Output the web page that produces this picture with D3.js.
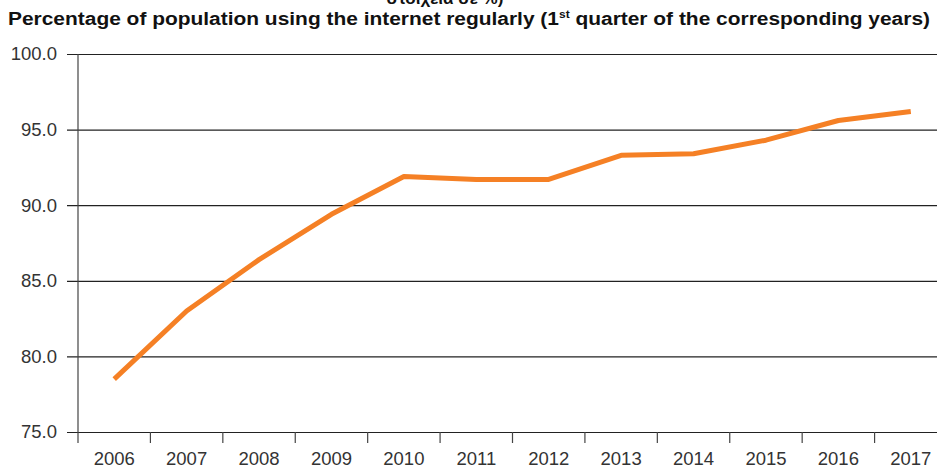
<!DOCTYPE html>
<html>
<head>
<meta charset="utf-8">
<script src="https://cdn.jsdelivr.net/npm/d3@7"></script>
<style>
  html, body { margin: 0; padding: 0; background: #fff; overflow: hidden; }
  svg { display: block; font-family: "Liberation Sans", Arial, sans-serif; }
</style>
</head>
<body>
<svg id="chart"></svg>
<script>
// data
const years = ["2006", "2007", "2008", "2009", "2010", "2011", "2012", "2013", "2014", "2015", "2016", "2017"];
const internetUse = [78.5, 83.0, 86.4, 89.4, 91.9, 91.7, 91.7, 93.3, 93.4, 94.3, 95.6, 96.2];
const yTicks = [75, 80, 85, 90, 95, 100];

const width = 937;
const height = 470;
const margin = { top: 54, right: -10, bottom: 38, left: 78 };

const svg = d3.select("#chart")
  .attr("width", width)
  .attr("height", height);

const x = d3.scaleBand()
  .domain(years)
  .range([margin.left, width - margin.right])
  .padding(0);

const y = d3.scaleLinear()
  .domain([75, 100])
  .range([height - margin.bottom, margin.top]);

// clipped heading left over from the page above (cut off in the reference too)
svg.append("text")
  .attr("x", 445)
  .attr("y", 4)
  .attr("text-anchor", "middle")
  .attr("font-size", 17)
  .attr("font-weight", "bold")
  .attr("fill", "#111")
  .text("στοιχεία σε %)");

// title
const title = svg.append("text")
  .attr("x", 8)
  .attr("y", 25)
  .attr("font-size", 17.5)
  .attr("font-weight", "bold")
  .attr("fill", "#111")
  .attr("textLength", 922)
  .attr("lengthAdjust", "spacingAndGlyphs");
title.append("tspan").text("Percentage of population using the internet regularly (1");
title.append("tspan").attr("font-size", 10).attr("dy", -7).text("st");
title.append("tspan").attr("dy", 7).text(" quarter of the corresponding years)");

// horizontal grid + y axis
const yAxis = svg.append("g")
  .attr("transform", `translate(${margin.left},0)`)
  .call(d3.axisLeft(y)
    .tickValues(yTicks)
    .tickFormat(d3.format(".1f"))
    .tickSize(-(width - margin.left - margin.right))
    .tickSizeOuter(0));
yAxis.select(".domain").remove();
yAxis.selectAll(".tick line")
  .attr("x1", -11)
  .attr("stroke", "#222")
  .attr("stroke-width", 1.2);
yAxis.selectAll(".tick text")
  .attr("x", -21)
  .attr("font-size", 18.5)
  .attr("fill", "#333")
  .attr("font-family", "Liberation Sans, Arial, sans-serif");

// vertical axis line
svg.append("line")
  .attr("x1", margin.left).attr("x2", margin.left)
  .attr("y1", y(100)).attr("y2", y(75) + 11)
  .attr("stroke", "#444")
  .attr("stroke-width", 1.2);

// x axis labels (centred) and boundary ticks
const xAxis = svg.append("g")
  .attr("transform", `translate(0,${y(75)})`)
  .call(d3.axisBottom(x).tickSize(0));
xAxis.select(".domain").remove();
xAxis.selectAll(".tick text")
  .attr("y", 33)
  .attr("dy", 0)
  .attr("font-size", 18.5)
  .attr("fill", "#333")
  .attr("font-family", "Liberation Sans, Arial, sans-serif");

svg.append("g")
  .selectAll("line")
  .data(years.slice(1))
  .enter()
  .append("line")
  .attr("x1", d => x(d)).attr("x2", d => x(d))
  .attr("y1", y(75)).attr("y2", y(75) + 11)
  .attr("stroke", "#444")
  .attr("stroke-width", 1.2);

// the series
const line = d3.line()
  .x((d, i) => x(years[i]) + x.bandwidth() / 2)
  .y(d => y(d));

svg.append("path")
  .datum(internetUse)
  .attr("fill", "none")
  .attr("stroke", "#F58025")
  .attr("stroke-width", 5)
  .attr("stroke-linejoin", "round")
  .attr("d", line);
</script>
</body>
</html>
